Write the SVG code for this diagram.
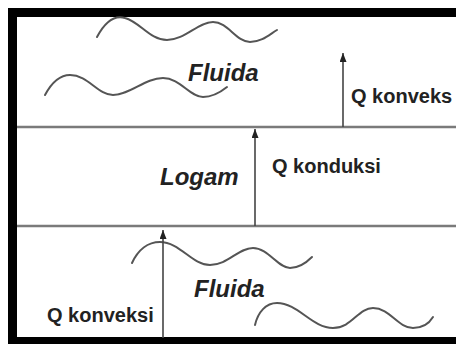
<svg xmlns="http://www.w3.org/2000/svg" width="456" height="344" viewBox="0 0 456 344">
  <style>
    .wave { fill: none; stroke: #555; stroke-width: 2; stroke-linecap: round; }
    .layer { stroke: #7a7a7a; stroke-width: 2.5; }
    .flow { stroke: #444; stroke-width: 1.6; marker-end: url(#ah); }
    .big { font-family: "Liberation Sans", Arial, sans-serif; font-size: 24px; font-style: italic; font-weight: bold; fill: #222; }
    .lbl { font-family: "Liberation Sans", Arial, sans-serif; font-size: 20px; font-weight: bold; fill: #222; }
  </style>
  <defs>
    <marker id="ah" viewBox="0 0 9 7" refX="9" refY="3.5" markerWidth="9" markerHeight="7" markerUnits="userSpaceOnUse" orient="auto">
      <path d="M0 0 L9 3.5 L0 7 Z" fill="#222"/>
    </marker>
  </defs>
  <rect width="456" height="344" fill="#fff"/>
  <g id="frame">
    <rect x="8" y="8" width="448" height="9" fill="#000"/>
    <rect x="8" y="8" width="9" height="336" fill="#000"/>
    <rect x="8" y="337" width="448" height="7" fill="#000"/>
  </g>
  <g id="boundaries">
    <line class="layer" x1="17" y1="127" x2="456" y2="127"/>
    <line class="layer" x1="17" y1="226" x2="456" y2="226"/>
  </g>
  <g id="fluida-top">
    <path class="wave" d="M97 37 C105 22 115 15 125 18 C140 22 150 40 167 40 C185 40 198 22 213 22 C228 22 236 42 250 42 C262 42 270 34 277 30"/>
    <path class="wave" d="M45 95 C52 82 60 75 70 75 C88 75 98 95 113 95 C130 95 145 78 163 78 C180 78 190 97 203 97 C214 97 222 91 227 87"/>
    <text class="big" x="188" y="81">Fluida</text>
  </g>
  <g id="logam">
    <text class="big" x="160" y="185">Logam</text>
  </g>
  <g id="fluida-bottom">
    <path class="wave" d="M132 263 C138 250 148 242 160 242 C180 242 192 265 210 265 C228 265 238 248 253 248 C268 248 278 268 290 268 C300 268 307 262 312 257"/>
    <path class="wave" d="M255 325 C258 312 266 303 277 303 C298 303 312 328 333 328 C352 328 358 308 373 308 C390 308 398 328 413 328 C424 328 430 322 433 317"/>
    <text class="big" x="194" y="297">Fluida</text>
  </g>
  <g id="connectors">
    <line class="flow" x1="163" y1="338" x2="163" y2="230"/>
    <line class="flow" x1="255" y1="226" x2="255" y2="129"/>
    <line class="flow" x1="343" y1="127" x2="343" y2="53"/>
  </g>
  <g id="labels">
    <text class="lbl" x="351" y="103">Q konveks</text>
    <text class="lbl" x="272" y="173">Q konduksi</text>
    <text class="lbl" x="47" y="322">Q konveksi</text>
  </g>
</svg>
